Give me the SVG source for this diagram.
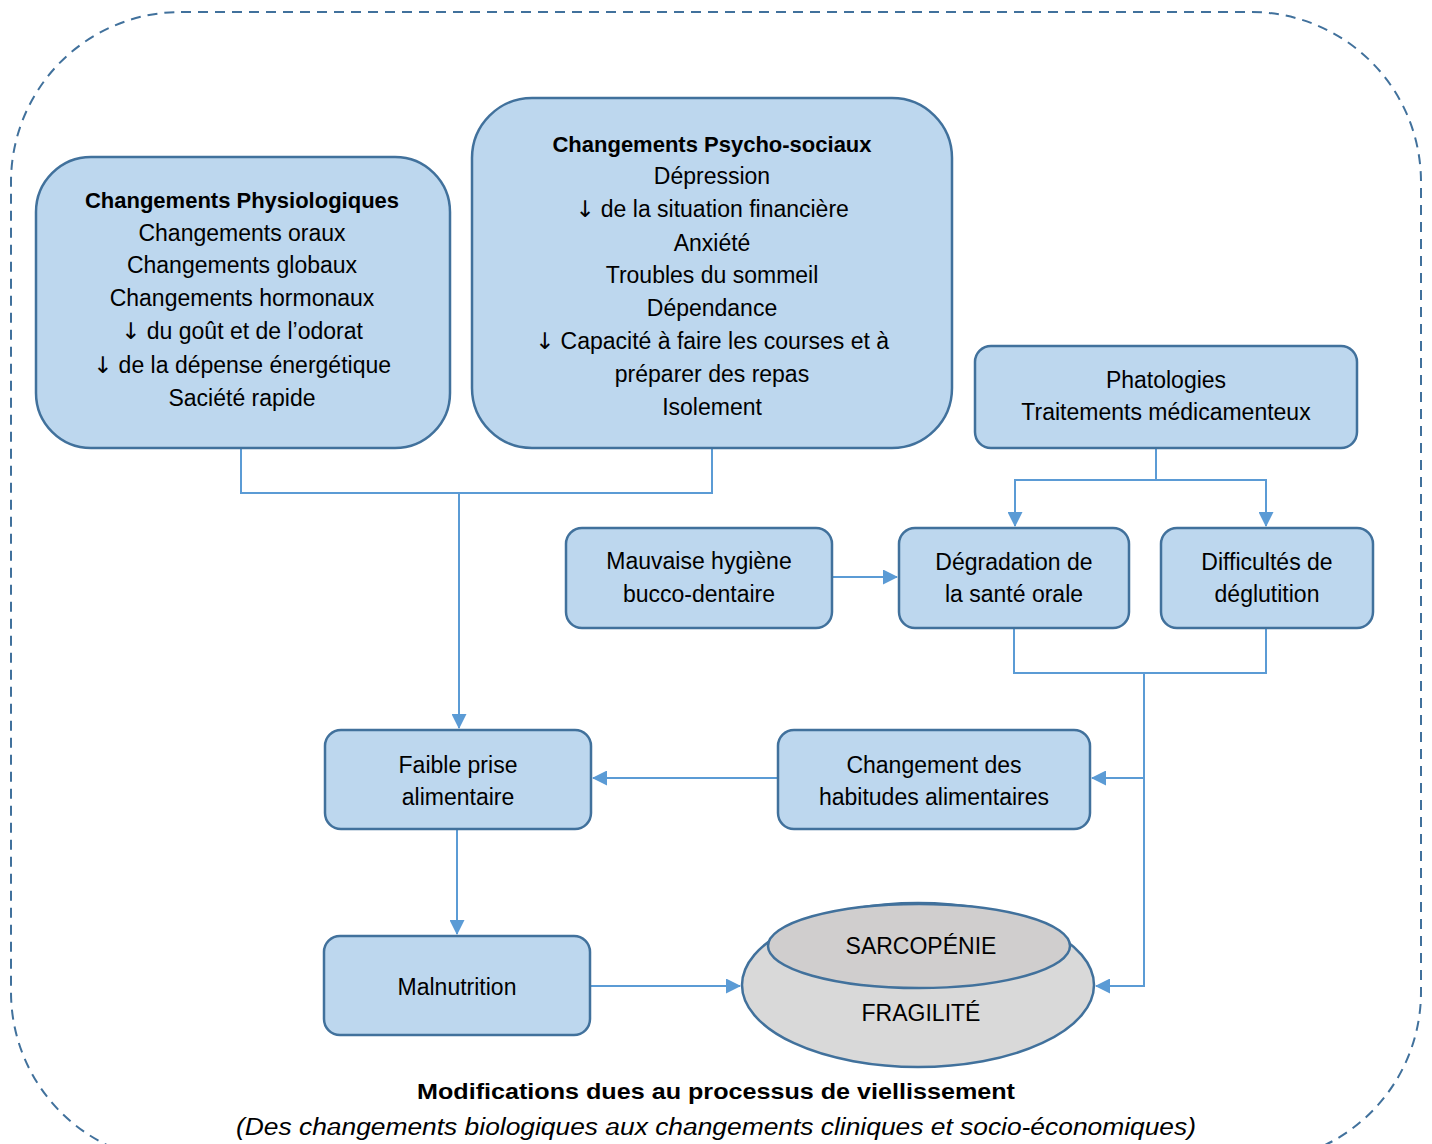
<svg xmlns="http://www.w3.org/2000/svg" width="1432" height="1144" viewBox="0 0 1432 1144">
<style>
.box{fill:#bdd7ee;stroke:#41719c;stroke-width:2.5}
.t{font-family:"Liberation Sans",Arial,sans-serif;font-size:23px;fill:#000;text-anchor:middle}
.b{font-weight:bold;font-size:22px}
.ar{font-family:"DejaVu Sans",sans-serif}
.c{fill:none;stroke:#5b9bd5;stroke-width:2}
</style>
<defs>
<marker id="ah" markerUnits="userSpaceOnUse" markerWidth="15" markerHeight="15" refX="14" refY="7.5" orient="auto">
<path d="M0,0 L15,7.5 L0,15 Z" fill="#5b9bd5"/>
</marker>
</defs>
<rect x="11" y="12" width="1410" height="1150" rx="170" ry="170" fill="none" stroke="#41719c" stroke-width="2" stroke-dasharray="10,7"/>
<g id="connectors">
<path class="c" d="M241,448 V493 H712 V448"/>
<path class="c" d="M459,493 V728" marker-end="url(#ah)"/>
<path class="c" d="M1156,448 V480 H1015 V526" marker-end="url(#ah)"/>
<path class="c" d="M1156,480 H1266 V526" marker-end="url(#ah)"/>
<path class="c" d="M832,577 H897" marker-end="url(#ah)"/>
<path class="c" d="M1014,628 V673 H1266 V628"/>
<path class="c" d="M1144,673 V986 H1096" marker-end="url(#ah)"/>
<path class="c" d="M1144,778 H1092" marker-end="url(#ah)"/>
<path class="c" d="M778,778 H593" marker-end="url(#ah)"/>
<path class="c" d="M457,829 V934" marker-end="url(#ah)"/>
<path class="c" d="M590,986 H740" marker-end="url(#ah)"/>
</g>
<g id="physio">
<rect class="box" x="36" y="157" width="414" height="291" rx="55"/>
<text class="t b" x="242" y="208">Changements Physiologiques</text>
<text class="t" x="242" y="241">Changements oraux</text>
<text class="t" x="242" y="273">Changements globaux</text>
<text class="t" x="242" y="306">Changements hormonaux</text>
<text class="t" x="242" y="339"><tspan class="ar">↓</tspan> du goût et de l’odorat</text>
<text class="t" x="242" y="373"><tspan class="ar">↓</tspan> de la dépense énergétique</text>
<text class="t" x="242" y="406">Saciété rapide</text>
</g>
<g id="psycho">
<rect class="box" x="472" y="98" width="480" height="350" rx="60"/>
<text class="t b" x="712" y="152">Changements Psycho-sociaux</text>
<text class="t" x="712" y="184">Dépression</text>
<text class="t" x="712" y="217"><tspan class="ar">↓</tspan> de la situation financière</text>
<text class="t" x="712" y="251">Anxiété</text>
<text class="t" x="712" y="283">Troubles du sommeil</text>
<text class="t" x="712" y="316">Dépendance</text>
<text class="t" x="712" y="349"><tspan class="ar">↓</tspan> Capacité à faire les courses et à</text>
<text class="t" x="712" y="382">préparer des repas</text>
<text class="t" x="712" y="415">Isolement</text>
</g>
<g id="phatologies">
<rect class="box" x="975" y="346" width="382" height="102" rx="16"/>
<text class="t" x="1166" y="388">Phatologies</text>
<text class="t" x="1166" y="420">Traitements médicamenteux</text>
</g>
<g id="mauvaise">
<rect class="box" x="566" y="528" width="266" height="100" rx="16"/>
<text class="t" x="699" y="569">Mauvaise hygiène</text>
<text class="t" x="699" y="602">bucco-dentaire</text>
</g>
<g id="degradation">
<rect class="box" x="899" y="528" width="230" height="100" rx="16"/>
<text class="t" x="1014" y="570">Dégradation de</text>
<text class="t" x="1014" y="602">la santé orale</text>
</g>
<g id="difficultes">
<rect class="box" x="1161" y="528" width="212" height="100" rx="16"/>
<text class="t" x="1267" y="570">Difficultés de</text>
<text class="t" x="1267" y="602">déglutition</text>
</g>
<g id="faible">
<rect class="box" x="325" y="730" width="266" height="99" rx="16"/>
<text class="t" x="458" y="773">Faible prise</text>
<text class="t" x="458" y="805">alimentaire</text>
</g>
<g id="habitudes">
<rect class="box" x="778" y="730" width="312" height="99" rx="16"/>
<text class="t" x="934" y="773">Changement des</text>
<text class="t" x="934" y="805">habitudes alimentaires</text>
</g>
<g id="malnutrition">
<rect class="box" x="324" y="936" width="266" height="99" rx="16"/>
<text class="t" x="457" y="995">Malnutrition</text>
</g>
<g id="fragilite">
<ellipse cx="918" cy="985" rx="176" ry="82" fill="#d9d9d9" stroke="#41719c" stroke-width="2.5"/>
<ellipse cx="919" cy="946" rx="151" ry="42" fill="#d0cece" stroke="#41719c" stroke-width="2.5"/>
<text class="t" x="921" y="954">SARCOPÉNIE</text>
<text class="t" x="921" y="1021">FRAGILITÉ</text>
</g>
<g id="caption">
<text class="t b" x="716" y="1099" textLength="598" lengthAdjust="spacingAndGlyphs">Modifications dues au processus de viellissement</text>
<text class="t" x="716" y="1135" font-style="italic" textLength="960" lengthAdjust="spacingAndGlyphs">(Des changements biologiques aux changements cliniques et socio-économiques)</text>
</g>
</svg>
